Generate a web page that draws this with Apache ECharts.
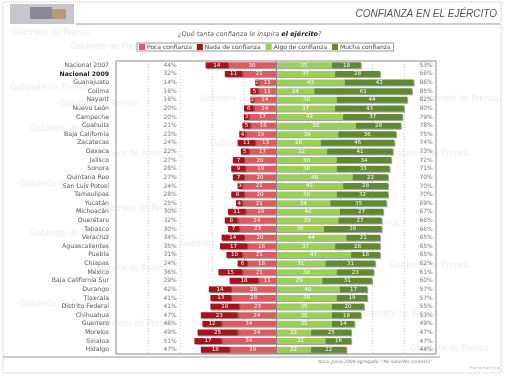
<!DOCTYPE html>
<html><head><meta charset="utf-8">
<script src="https://cdn.jsdelivr.net/npm/echarts@6/dist/echarts.min.js"></script>
<style>html,body{margin:0;padding:0;background:#fff}#c{width:507px;height:376px}</style>
</head><body><div id="c"></div>
<script>
var categories = ['Nacional 2007','Nacional 2009','Guanajuato','Colima','Nayarit','Nuevo León','Campeche','Coahuila','Baja California','Zacatecas','Oaxaca','Jalisco','Sonora','Quintana Roo','San Luis Potosí','Tamaulipas','Yucatán','Michoacán','Querétaro','Tabasco','Veracruz','Aguascalientes','Puebla','Chiapas','México','Baja California Sur','Durango','Tlaxcala','Distrito Federal','Chihuahua','Guerrero','Morelos','Sinaloa','Hidalgo'];
var poca  = [30,21,11,11,14,14,17,16,19,13,17,20,19,20,21,20,21,19,24,23,20,18,21,18,21,11,28,28,23,24,34,24,34,29];
var nada  = [14,11,2,5,2,6,3,5,4,11,5,7,9,7,3,8,4,11,8,7,14,17,10,6,15,18,14,13,18,23,12,25,17,18];
var algo  = [35,37,43,24,38,37,42,50,39,28,32,38,38,48,42,38,34,40,39,30,44,37,47,31,38,29,40,38,35,35,35,22,31,22];
var mucha = [18,28,43,61,44,43,37,28,36,46,41,34,33,22,28,32,35,27,27,36,21,28,18,31,23,31,17,19,20,18,14,25,16,22];
var totalNeg = [44,32,14,16,16,20,20,21,23,24,22,27,28,27,24,28,25,30,32,30,34,35,31,24,36,29,42,41,41,47,46,49,51,47];
var totalPos = [53,66,86,85,82,80,79,78,75,74,73,72,71,70,70,70,69,67,66,66,65,65,65,62,61,60,57,57,55,53,49,47,47,44];
var seriesNames = ['Poca confianza','Nada de confianza','Algo de confianza','Mucha confianza'];
var xTicks = [-100,-80,-60,-40,-20,0,20,40,60,80,100];

var FONT = 'DejaVu Sans';
var chart = echarts.init(document.getElementById('c'), null, {renderer:'canvas'});

function barSeries(name, vals, sign, color){
  return {
    name: name, type: 'bar', stack: 'all', barWidth: 6,
    data: vals.map(function(v){return v*sign;}),
    itemStyle: {color: color, shadowColor:'rgba(0,0,0,0.35)', shadowOffsetX:1, shadowOffsetY:1, shadowBlur:0},
    label: {show: true, position: 'inside', color: '#fff', fontSize: 5.5, fontFamily: FONT,
      formatter: function(p){return Math.abs(p.value);}}
  };
}

var s = [
  barSeries(seriesNames[0], poca, -1, '#de5a62'),
  barSeries(seriesNames[1], nada, -1, '#a3141c'),
  barSeries(seriesNames[2], algo, 1, '#9ccf5a'),
  barSeries(seriesNames[3], mucha, 1, '#5f8a33')
];
s[2].markLine = {silent:true, symbol:'none', label:{show:false}, lineStyle:{color:'#8a8a8a', type:'solid', width:1}, data:[{xAxis:0}]};

s.push({
  type:'scatter', symbolSize:0, silent:true, z:5,
  data: totalNeg.map(function(v,i){return [-62, categories[i], v];}),
  label:{show:true, position:'left', distance:0, color:'#555', fontSize:6, fontFamily:FONT,
    formatter:function(p){return p.value[2]+'%';}}
});
s.push({
  type:'scatter', symbolSize:0, silent:true, z:5,
  data: totalPos.map(function(v,i){return [98, categories[i], v];}),
  label:{show:true, position:'left', distance:0, color:'#555', fontSize:6, fontFamily:FONT,
    formatter:function(p){return p.value[2]+'%';}}
});

var wm = [[12,29],[70,43],[10,84],[60,100],[30,125],[90,150],[20,180],[100,205],[30,230],[90,265],[20,300],[95,320],[200,95],[210,140],[300,170],[390,150],[420,95],[180,240],[320,220],[390,262],[250,300],[360,310],[410,345]];
var graphics = [
  {type:'rect', shape:{x:10,y:4,width:64,height:20}, style:{fill:'#c8c6cc'}},
  {type:'rect', shape:{x:30,y:7,width:22,height:12}, style:{fill:'#8c8a96'}},
  {type:'rect', shape:{x:52,y:9,width:14,height:10}, style:{fill:'#b39a7c'}},
  {type:'rect', shape:{x:3,y:2,width:498,height:371}, style:{fill:'none', stroke:'#c4c4c4', lineWidth:1, lineDash:[1,1]}},
  {type:'line', shape:{x1:76,y1:24,x2:500,y2:24}, style:{stroke:'#999', lineWidth:1}},
  {type:'line', shape:{x1:3,y1:357,x2:440,y2:357}, style:{stroke:'#999', lineWidth:1}},
  {type:'text', right:10, top:9, style:{text:'CONFIANZA EN EL EJÉRCITO', fill:'#555', font:'italic 10px "Liberation Sans"'}},
  {type:'text', left:178, top:31, style:{
    text:'{a|¿Qué tanta confianza le inspira }{b|el ejército}{a|?}',
    rich:{a:{fill:'#555', font:'italic 6.5px "DejaVu Sans"'}, b:{fill:'#222', font:'italic bold 6.5px "DejaVu Sans"'}}}},
  {type:'text', left:318, top:359, style:{text:'Nota: Junio 2009 agregado: "No sabe/No contestó"', fill:'#888', font:'italic 4.5px "DejaVu Sans"'}},
  {type:'text', left:470, top:366, style:{text:'P a r a m e t r í a', fill:'#999', font:'3.5px "DejaVu Sans"'}}
];
wm.forEach(function(p){
  graphics.push({type:'text', left:p[0], top:p[1], z:-1, silent:true, style:{text:'Gabinete de Prensa', fill:'#ececec', font:'8px "DejaVu Sans"'}});
});

chart.setOption({
  animation:false,
  textStyle:{fontFamily:FONT},
  legend:{
    data: seriesNames, left:137, top:43, itemWidth:6, itemHeight:6, itemGap:5,
    padding:[1,3,1,2], borderColor:'#999', borderWidth:1,
    textStyle:{fontSize:6, color:'#444', padding:[0,0,0,-3]}, icon:'rect'
  },
  grid:{left:116, right:71, top:61, bottom:22, show:true, borderColor:'#888', borderWidth:1},
  xAxis:{type:'value', min:-100, max:100, interval:20, show:true,
    axisLabel:{show:false}, axisTick:{show:false}, axisLine:{show:false},
    splitLine:{show:true, lineStyle:{color:'#cfcfcf', type:[1,2], width:1}}},
  yAxis:{type:'category', data:categories, inverse:true,
    axisLine:{show:false}, axisTick:{show:false},
    axisLabel:{margin:7, fontSize:6.2, color:'#555', fontFamily:FONT,
      formatter:function(v){return v==='Nacional 2009' ? '{b|'+v+'}' : v;},
      rich:{b:{fontWeight:'bold', color:'#222', fontSize:6.2, fontFamily:FONT}}}},
  series: s,
  graphic: graphics
});
</script></body></html>
